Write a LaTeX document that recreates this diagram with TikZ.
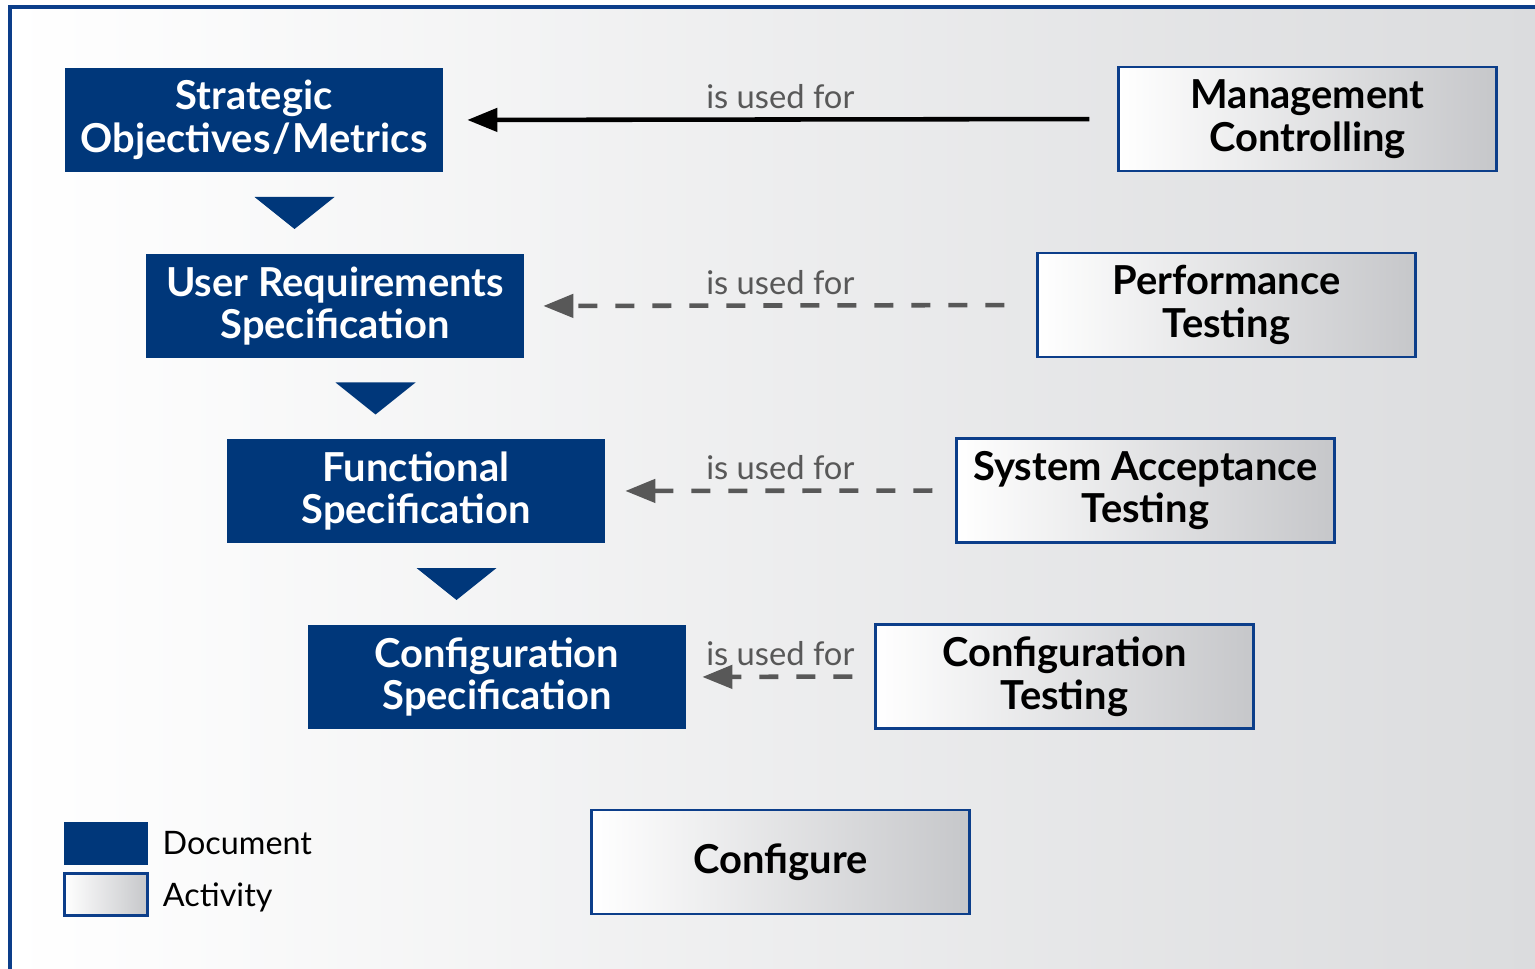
\documentclass[tikz,border=0pt]{standalone}
\usepackage{fontspec}
\setmainfont{Lato}
\usetikzlibrary{arrows.meta,calc,positioning}
\definecolor{docblue}{RGB}{0,55,122}
\definecolor{frameblue}{RGB}{12,62,138}
\definecolor{bggray}{RGB}{219,220,222}
\definecolor{actgray}{RGB}{198,199,202}
\definecolor{usedgray}{RGB}{88,88,88}

\tikzset{
  docbox/.style={fill=docblue, text=white, align=center, inner sep=0pt,
    minimum width=7.56cm, minimum height=2.08cm,
    font=\bfseries\fontsize{22.7}{24.2}\selectfont},
  actbox/.style={draw=frameblue, line width=1.3pt, left color=white, right color=actgray,
    align=center, inner sep=0pt, minimum width=7.56cm, minimum height=2.08cm,
    font=\bfseries\fontsize{22.7}{24.2}\selectfont},
  usedfor/.style={line width=2.6pt, -{Triangle[length=0.6cm, width=0.46cm]}},
  usedlbl/.style={above=0.17cm, inner sep=0pt, text=usedgray, font=\fontsize{18.6}{18.6}\selectfont},
  legtxt/.style={inner sep=0pt, font=\fontsize{18.4}{18.4}\selectfont}
}

\begin{document}
\begin{tikzpicture}[x=0.02cm, y=-0.02cm]
\useasboundingbox (0,0) rectangle (1535,969);
\fill[white] (0,0) rectangle (1535,969);
\shade[left color=white, right color=bggray] (10,7) rectangle (1535,969);
\draw[frameblue, line width=0.07cm] (10,969) |- (1535,7);

% documents
\node[docbox] (strat) at (254,120) {Strategic\\Objectives\kern1pt/\kern1pt Metrics};
\node[docbox] (usrreq) at (335,306) {User Requirements\\Specification};
\node[docbox] (funcspec) at (416,491) {Functional\\Specification};
\node[docbox] (confspec) at (497,677) {Configuration\\Specification};

\foreach \a/\b in {strat/usrreq, usrreq/funcspec, funcspec/confspec}
  \fill[docblue] ($(\a.south)!.5!(\b.north)$) ++(-40,-16) -- ++(80,0) -- ++(-40,32) -- cycle;

% activities
\node[actbox] (mgmt) at (1307.5,119) {Management\\Controlling};
\node[actbox] (perf) at (1226.5,305) {Performance\\Testing};
\node[actbox] (sysacc) at (1145.5,490.5) {System Acceptance\\Testing};
\node[actbox] (conftest) at (1064.5,676.5) {Configuration\\Testing};
\node[actbox] (configure) at (780.5,862) {Configure};

\draw[usedfor, black, shorten <=0.56cm, shorten >=0.48cm] (mgmt.west) -- node[usedlbl] {is used for} (strat.east);
\draw[usedfor, usedgray, dash pattern=on 0.38cm off 0.36cm, shorten <=0.64cm, shorten >=0.38cm] (perf.west) -- node[usedlbl] {is used for} (usrreq.east);
\draw[usedfor, usedgray, dash pattern=on 0.38cm off 0.36cm, shorten <=0.46cm, shorten >=0.40cm] (sysacc.west) -- node[usedlbl] {is used for} (funcspec.east);
\draw[usedfor, usedgray, dash pattern=on 0.38cm off 0.36cm, shorten <=0.44cm, shorten >=0.32cm] (conftest.west) -- node[usedlbl] {is used for} (confspec.east);

% legend
\node[docbox, minimum width=1.68cm, minimum height=0.86cm] (legdoc) at (106,843.5) {};
\node[actbox, minimum width=1.66cm, minimum height=0.84cm] (legact) at (106,894.5) {};
\node[legtxt, right=0.28cm of legdoc] (legdoctxt) {Document};
\node[legtxt, right=0.28cm of legact, yshift=-0.06cm] (legacttxt) {Activity};
\end{tikzpicture}
\end{document}
